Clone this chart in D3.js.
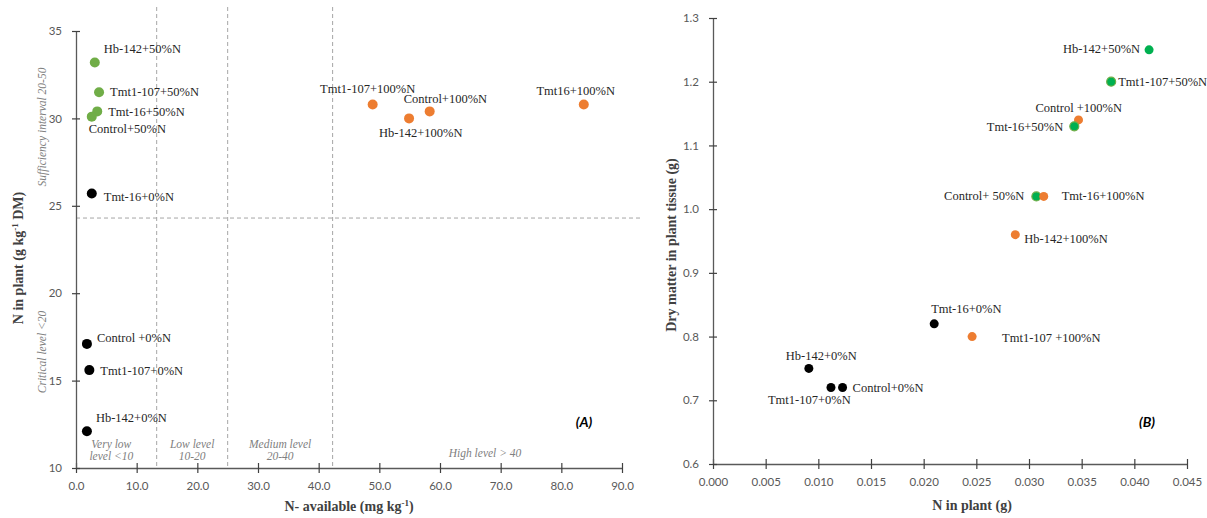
<!DOCTYPE html>
<meta charset="utf-8">
<script src="https://d3js.org/d3.v7.min.js"></script>
<style>
  body { margin: 0; background: #fff; }
  .tick text { font-family: Lato, sans-serif; font-size: 11.5px; fill: #595959; }
  .lbl { font-family: "Liberation Serif", serif; font-size: 12.5px; fill: #262626; }
  .ttl { font-family: "Liberation Serif", serif; font-size: 14px; font-weight: bold; fill: #404040; }
  .zone { font-family: "Liberation Serif", serif; font-style: italic; font-size: 11.5px; fill: #808080; }
  .tag { font-family: Lato, sans-serif; font-style: italic; font-weight: bold; font-size: 14px; fill: #000; }
</style>
<div id="my_dataviz"></div>
<script>

// ---- chart A data: N available vs N in plant
var labelsA = ["Hb-142+50%N", "Tmt1-107+50%N", "Tmt-16+50%N", "Control+50%N",
               "Tmt-16+0%N", "Control +0%N", "Tmt1-107+0%N", "Hb-142+0%N",
               "Tmt1-107+100%N", "Control+100%N", "Hb-142+100%N", "Tmt16+100%N"];
var nAvailA = [3.1, 3.8, 3.5, 2.6, 2.6, 1.8, 2.2, 1.8, 48.9, 58.3, 54.9, 83.7];
var nPlantA = [33.2, 31.5, 30.4, 30.1, 25.7, 17.1, 15.6, 12.1, 30.8, 30.4, 30.0, 30.8];
var doseA   = ["50", "50", "50", "50", "0", "0", "0", "0", "100", "100", "100", "100"];
var xTicksA = [0, 10, 20, 30, 40, 50, 60, 70, 80, 90];
var yTicksA = [10, 15, 20, 25, 30, 35];
var zoneXA  = [13.3, 25.0, 42.3];
var zoneYA  = [24.3];
var zoneTextA = [["Very low", "level <10"], ["Low level", "10-20"], ["Medium level", "20-40"]];

// ---- chart B data: N in plant vs dry matter
var labelsB = ["Hb-142+0%N", "Tmt1-107+0%N", "Control+0%N", "Tmt-16+0%N", "Tmt1-107 +100%N",
               "Hb-142+50%N", "Tmt1-107+50%N", "Control +100%N", "Tmt-16+50%N",
               "Control+ 50%N", "Tmt-16+100%N", "Hb-142+100%N"];
var nPlantB = [0.0091, 0.0112, 0.0123, 0.0210, 0.0246, 0.0414, 0.0378, 0.0347, 0.0343, 0.0307, 0.0314, 0.0287];
var dryB    = [0.75, 0.72, 0.72, 0.82, 0.80, 1.25, 1.20, 1.14, 1.13, 1.02, 1.02, 0.96];
var doseB   = ["0", "0", "0", "0", "100", "50", "50", "100", "50", "50", "100", "100"];
var xTicksB = [0, 0.005, 0.01, 0.015, 0.02, 0.025, 0.03, 0.035, 0.04, 0.045];
var yTicksB = [0.6, 0.7, 0.8, 0.9, 1.0, 1.1, 1.2, 1.3];

// label placement (dx, dy, anchor) relative to each point
var labelPosA = [[9,-13,"start"],[11,0,"start"],[11,1,"start"],[-3,12,"start"],
                 [12,3,"start"],[10,-6,"start"],[11,1,"start"],[9,-13,"start"],
                 [-5,-15,"middle"],[-26,-12,"start"],[-30,15,"start"],[-8,-13,"middle"]];
var labelPosB = [[-23,-12,"start"],[-63,12,"start"],[10,0,"start"],[-3,-15,"start"],[30,1,"start"],
                 [-9,-1,"end"],[7,0,"start"],[-43,-12,"start"],[-11,1,"end"],
                 [-12,0,"end"],[18,0,"start"],[9,4,"start"]];

var colorA = {"0": "#000000", "50": "#70ad47", "100": "#ed7d31"};
var colorB = {"0": "#000000", "50": "#00b050", "100": "#ed7d31"};

var svg = d3.select("#my_dataviz").append("svg")
  .attr("width", 1207).attr("height", 518);

function crossTicks(g, horizontal) {
  g.select(".domain").attr("stroke", "#595959").attr("stroke-width", 1.3);
  g.selectAll(".tick line").attr("stroke", "#404040").attr("stroke-width", 1.2);
  if (horizontal) g.selectAll(".tick line").attr("y1", -5).attr("y2", 5);
  else g.selectAll(".tick line").attr("x1", 4).attr("x2", -4);
  g.selectAll(".tick text").attr("font-family", null).attr("font-size", null);
}

// ================= chart A =================
var xA = d3.scaleLinear().domain([0, 90]).range([76, 622]);
var yA = d3.scaleLinear().domain([10, 35]).range([468, 31]);

// dashed guide lines
svg.selectAll(".vA").data(zoneXA).enter().append("line")
  .attr("x1", d => xA(d)).attr("x2", d => xA(d))
  .attr("y1", 7).attr("y2", yA(10))
  .attr("stroke", "#a6a6a6").attr("stroke-dasharray", "4,3");
svg.selectAll(".hA").data(zoneYA).enter().append("line")
  .attr("x1", xA(0)).attr("x2", 640)
  .attr("y1", d => yA(d)).attr("y2", d => yA(d))
  .attr("stroke", "#a6a6a6").attr("stroke-dasharray", "4,3");

svg.append("g").attr("transform", "translate(0," + yA(10) + ")")
  .call(d3.axisBottom(xA).tickValues(xTicksA).tickFormat(d3.format(".1f")).tickSizeOuter(0).tickPadding(8))
  .call(g => crossTicks(g, true));
svg.append("g").attr("transform", "translate(" + xA(0) + ",0)")
  .call(d3.axisLeft(yA).tickValues(yTicksA).tickSizeOuter(0).tickPadding(8))
  .call(g => crossTicks(g, false));

// zone labels
var zoneCentersA = [[0, 13.3], [13.3, 25.0], [25.0, 42.3]];
zoneTextA.forEach(function(lines, i) {
  var cx = (xA(zoneCentersA[i][0]) + xA(zoneCentersA[i][1])) / 2 + (i == 0 ? -5 : 0);
  lines.forEach(function(t, j) {
    svg.append("text").attr("class", "zone").attr("text-anchor", "middle")
      .attr("x", cx).attr("y", 448 + j * 12).text(t);
  });
});
svg.append("text").attr("class", "zone").attr("text-anchor", "middle")
  .attr("x", 485).attr("y", 457).text("High level > 40");

svg.append("text").attr("class", "zone").attr("text-anchor", "middle")
  .attr("transform", "translate(46,127) rotate(-90)").text("Sufficiency interval 20-50");
svg.append("text").attr("class", "zone").attr("text-anchor", "middle")
  .attr("transform", "translate(46,352) rotate(-90)").text("Critical level <20");

svg.selectAll(".ptA").data(labelsA).enter().append("circle")
  .attr("cx", (d, i) => xA(nAvailA[i])).attr("cy", (d, i) => yA(nPlantA[i]))
  .attr("r", 5).attr("fill", (d, i) => colorA[doseA[i]]);
svg.selectAll(".lbA").data(labelsA).enter().append("text").attr("class", "lbl")
  .attr("x", (d, i) => xA(nAvailA[i]) + labelPosA[i][0])
  .attr("y", (d, i) => yA(nPlantA[i]) + labelPosA[i][1])
  .attr("dominant-baseline", "central")
  .attr("text-anchor", (d, i) => labelPosA[i][2])
  .text(d => d);

svg.append("text").attr("class", "tag").attr("x", 584).attr("y", 427)
  .attr("text-anchor", "middle").text("(A)");

var tA = svg.append("text").attr("class", "ttl").attr("text-anchor", "middle")
  .attr("x", 349).attr("y", 511);
tA.append("tspan").text("N- available (mg kg");
tA.append("tspan").attr("font-size", "9px").attr("dy", -5).text("-1");
tA.append("tspan").attr("dy", 5).text(")");

var tA2 = svg.append("text").attr("class", "ttl").attr("text-anchor", "middle")
  .attr("transform", "translate(23,258) rotate(-90)");
tA2.append("tspan").text("N in plant (g kg");
tA2.append("tspan").attr("font-size", "9px").attr("dy", -5).text("-1");
tA2.append("tspan").attr("dy", 5).text(" DM)");

// ================= chart B =================
var xB = d3.scaleLinear().domain([0, 0.045]).range([713, 1187]);
var yB = d3.scaleLinear().domain([0.6, 1.3]).range([464, 18]);

svg.append("g").attr("transform", "translate(0," + yB(0.6) + ")")
  .call(d3.axisBottom(xB).tickValues(xTicksB).tickFormat(d3.format(".3f")).tickSizeOuter(0).tickPadding(8))
  .call(g => crossTicks(g, true));
svg.append("g").attr("transform", "translate(" + xB(0) + ",0)")
  .call(d3.axisLeft(yB).tickValues(yTicksB).tickFormat(d3.format(".1f")).tickSizeOuter(0).tickPadding(8))
  .call(g => crossTicks(g, false));

svg.selectAll(".ptB").data(labelsB).enter().append("circle")
  .attr("cx", (d, i) => xB(nPlantB[i])).attr("cy", (d, i) => yB(dryB[i]))
  .attr("r", 4.5)
  .attr("fill", (d, i) => colorB[doseB[i]])
  .attr("stroke", (d, i) => doseB[i] == "50" && i != 5 ? "#70ad47" : "none")
  .attr("stroke-width", 1.2);
svg.selectAll(".lbB").data(labelsB).enter().append("text").attr("class", "lbl")
  .attr("x", (d, i) => xB(nPlantB[i]) + labelPosB[i][0])
  .attr("y", (d, i) => yB(dryB[i]) + labelPosB[i][1])
  .attr("dominant-baseline", "central")
  .attr("text-anchor", (d, i) => labelPosB[i][2])
  .text(d => d);

svg.append("text").attr("class", "tag").attr("x", 1147).attr("y", 427)
  .attr("text-anchor", "middle").text("(B)");

svg.append("text").attr("class", "ttl").attr("text-anchor", "middle")
  .attr("x", 972).attr("y", 510).text("N in plant (g)");
svg.append("text").attr("class", "ttl").attr("text-anchor", "middle")
  .attr("transform", "translate(676,245) rotate(-90)").text("Dry matter in plant tissue (g)");

</script>
